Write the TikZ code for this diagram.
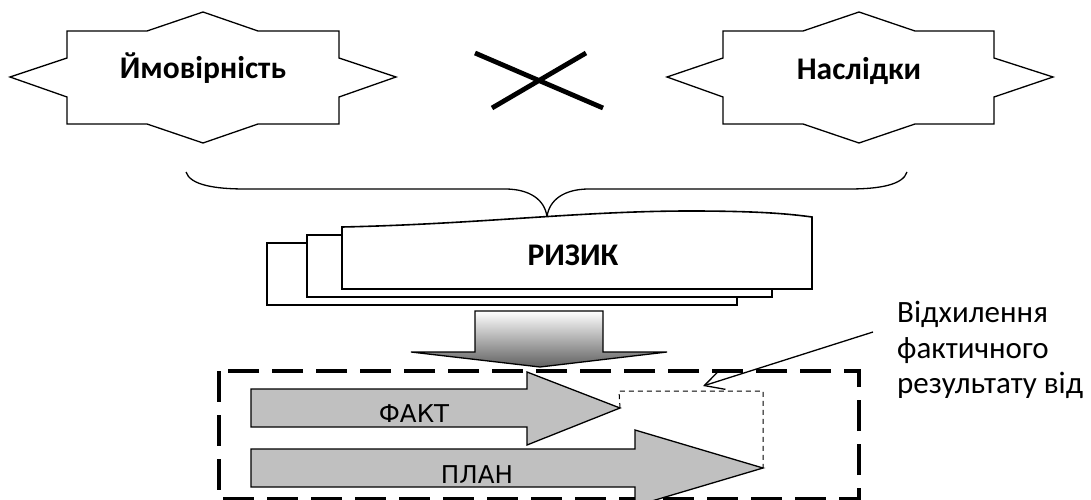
\documentclass[tikz,border=0pt]{standalone}
\usepackage{fontspec}
\setmainfont{Carlito}
\newfontfamily\arrowfont{DejaVu Sans}
\usetikzlibrary{arrows.meta}
\definecolor{arrowgray}{RGB}{192,192,192}
\begin{document}
\begin{tikzpicture}[x=1pt,y=-1pt,
  starshape/.style={draw=black, line width=1.3pt, fill=white, line join=miter},
  boldlabel/.style={font=\fontsize{31.5}{37}\selectfont\bfseries, inner sep=0pt},
  plainlabel/.style={font=\fontsize{31}{37}\selectfont, inner sep=0pt},
  arrowlabel/.style={font=\arrowfont\fontsize{24.5}{29}\selectfont, inner sep=0pt},
  docbox/.style={draw=black, line width=1.6pt, fill=white},
  grayarrow/.style={draw=black, line width=1.3pt, fill=arrowgray, line join=miter},
  bigframe/.style={draw=black, line width=4pt, dash pattern=on 31pt off 13pt},
  smallframe/.style={draw=black, line width=1pt, dash pattern=on 5pt off 4pt},
  crossline/.style={draw=black, line width=4.8pt},
  bracestyle/.style={draw=black, line width=1.3pt},
  callout/.style={draw=black, line width=1.3pt, -{Straight Barb[length=19pt,width=20pt,line width=1.3pt]}}
]
\useasboundingbox (0,0) rectangle (1091,500);

% left star
\path[starshape] (67,31) -- (147,31) -- (203,12) -- (258,31) -- (339,31) -- (339,58) -- (396,77)
  -- (339,97) -- (339,124) -- (258,124) -- (203,143) -- (147,124) -- (67,124) -- (67,97)
  -- (10,77) -- (67,58) -- cycle;
\node[boldlabel, anchor=base] (prob) at (203,79) {Ймовірність};

% right star
\path[starshape] (723,31) -- (803,31) -- (859,12) -- (915,31) -- (994,31) -- (994,58) -- (1053,77)
  -- (994,97) -- (994,124) -- (915,124) -- (859,143) -- (803,124) -- (723,124) -- (723,97)
  -- (667,77) -- (723,58) -- cycle;
\node[boldlabel, anchor=base] (cons) at (859,80) {Наслідки};

% cross
\draw[crossline] (475,53) -- (603,108);
\draw[crossline] (492,108) -- (586,53);

% brace
\draw[bracestyle] (186,172) .. controls (190,185) and (215,189) .. (245,189) -- (505,189)
  .. controls (530,189) and (545,200) .. (547,217)
  .. controls (549,200) and (564,189) .. (589,189) -- (849,189)
  .. controls (879,189) and (903,185) .. (907,172);

% stacked documents
\path[docbox] (267,243) rectangle (737,305);
\path[docbox] (307,235) rectangle (772,297);
\path[docbox] (342,289) -- (342,227) .. controls (480,224) and (580,211) .. (690,211)
  .. controls (760,211) and (790,214) .. (812,217) -- (812,289) -- cycle;
\node[boldlabel, anchor=base] (risk) at (573,265) {РИЗИК};

% down block arrow
\shadedraw[top color=white, bottom color=black!62, draw=black, line width=1.3pt, line join=miter]
  (475,311) -- (603,311) -- (603,352) -- (667,352) -- (540,367) -- (411,352) -- (475,352) -- cycle;

% big dashed frame
\draw[bigframe] (219,371) rectangle (859,499);

% small dashed frame
\coordinate (facttip) at (620,408);
\coordinate (plantip) at (763,468);
\draw[smallframe] (facttip) -- (619,391) -- (763,391) -- (plantip);

% fact arrow
\path[grayarrow] (251,389) -- (527,389) -- (527,372) -- (facttip) -- (527,445) -- (527,427) -- (251,427) -- cycle;
\node[arrowlabel, anchor=base] (fact) at (414,422) {ФАКТ};

% plan arrow
\path[grayarrow] (251,449) -- (635,449) -- (635,430) -- (plantip) -- (635,506) -- (635,487) -- (251,487) -- cycle;
\node[arrowlabel, anchor=base] (plan) at (477,483) {ПЛАН};

% callout text
\node[plainlabel, anchor=base west] (t1) at (897,322) {Відхилення};
\node[plainlabel, anchor=base west] (t2) at (897,358) {фактичного};
\node[plainlabel, anchor=base west] (t3) at (897,393) {результату від};

\coordinate (calloutstart) at (873,332);
\coordinate (calloutend) at (703,386);
\draw[callout] (calloutstart) -- (calloutend);
\end{tikzpicture}
\end{document}
